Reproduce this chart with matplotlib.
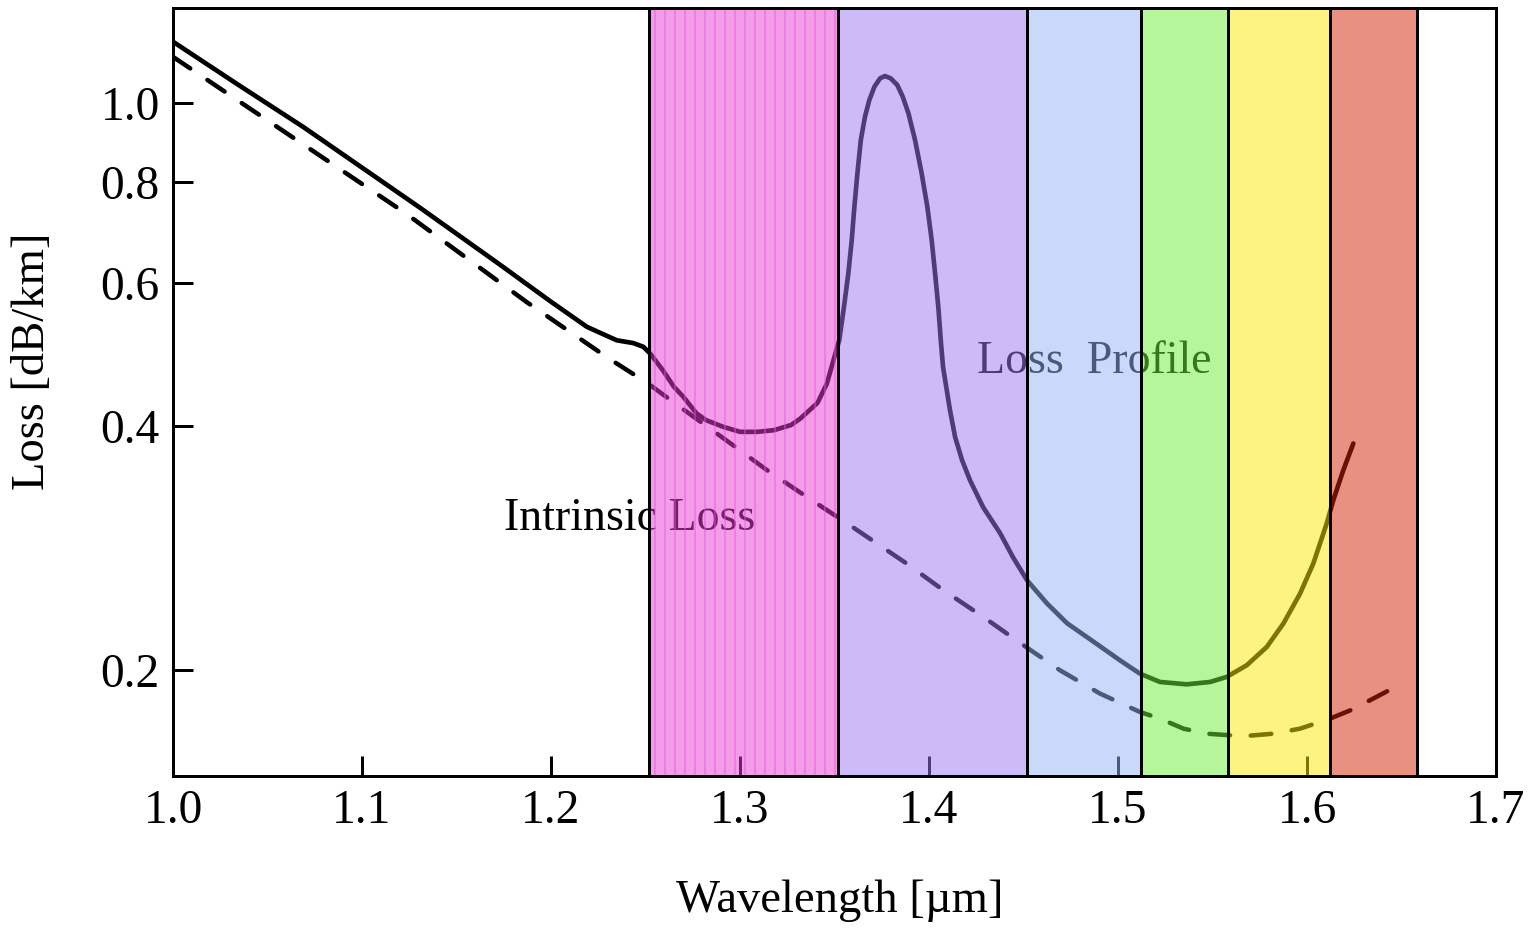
import numpy as np
import matplotlib.pyplot as plt
from matplotlib.ticker import NullLocator

plt.rcParams['font.family'] = ['Liberation Serif', 'DejaVu Serif']
plt.rcParams['hatch.linewidth'] = 0.5

# ── Data ────────────────────────────────────────────────────────────────────
wl_profile = [1.000, 1.034, 1.069, 1.131, 1.173, 1.1995, 1.2189, 1.2259, 1.2348,
              1.2435, 1.2488, 1.2524, 1.259, 1.265, 1.270, 1.277, 1.282, 1.291,
              1.300, 1.309, 1.318, 1.327, 1.332, 1.341, 1.346, 1.349, 1.3525,
              1.355, 1.3573, 1.3591, 1.3605, 1.3621, 1.3639, 1.3661, 1.3684,
              1.3711, 1.3741, 1.3767, 1.3797, 1.3832, 1.3861, 1.3891, 1.3926,
              1.3961, 1.3991, 1.4014, 1.4032, 1.4049, 1.4062, 1.4074, 1.4111,
              1.4138, 1.4175, 1.4217, 1.4286, 1.4376, 1.4444, 1.4519, 1.4624,
              1.4730, 1.4905, 1.5011, 1.5116, 1.5222, 1.5363, 1.5487, 1.5575,
              1.5681, 1.5787, 1.5875, 1.5963, 1.6033, 1.6104, 1.6139, 1.6192,
              1.6245]
loss_profile = [1.19, 1.055, 0.934, 0.742, 0.632, 0.570, 0.530, 0.521, 0.510,
                0.506, 0.5007, 0.4913, 0.469, 0.447, 0.4344, 0.4144, 0.4066, 0.3990,
                0.3933, 0.3933, 0.3952, 0.401, 0.4086, 0.427, 0.4513, 0.478, 0.5103,
                0.5609, 0.6166, 0.6777, 0.7450, 0.8190, 0.9003, 0.9618, 1.0085,
                1.0474, 1.0726, 1.0797, 1.0726, 1.0524, 1.0180, 0.9712, 0.9003,
                0.8190, 0.7450, 0.6777, 0.6166, 0.5609, 0.5103, 0.473, 0.418,
                0.3875, 0.3628, 0.3427, 0.3176, 0.295, 0.2756, 0.258, 0.2417,
                0.2285, 0.214, 0.2056, 0.1980, 0.1934, 0.1921, 0.1934, 0.1962,
                0.2028, 0.2136, 0.2283, 0.2485, 0.2706, 0.3032, 0.3240, 0.3528,
                0.3805]

wl_intrinsic = [1.000, 1.1228, 1.1873, 1.2296, 1.2508, 1.2683, 1.2947, 1.3141,
                1.3353, 1.3565, 1.3882, 1.4076, 1.4287, 1.4499, 1.4693, 1.4905,
                1.5116, 1.5222, 1.5346, 1.5469, 1.5663, 1.5822, 1.5963, 1.6122,
                1.6228, 1.6333, 1.6466]
loss_intrinsic = [1.14, 0.732, 0.568, 0.486, 0.452, 0.422, 0.381, 0.353,
                  0.327, 0.3035, 0.2706, 0.2509, 0.2326, 0.2147, 0.1999, 0.1871,
                  0.1776, 0.1743, 0.1694, 0.1670, 0.1658, 0.1670, 0.1694, 0.1743,
                  0.1784, 0.1836, 0.1906]

band_edges = [1.252, 1.352, 1.452, 1.512, 1.558, 1.612, 1.658]
band_colors = ['#E93BD1', '#9B79F1', '#95B5F5', '#6DEF37', '#FBE903', '#D52503']

x_ticks = [1.0, 1.1, 1.2, 1.3, 1.4, 1.5, 1.6, 1.7]
x_ticklabels = ['1.0', '1.1', '1.2', '1.3', '1.4', '1.5', '1.6', '1.7']
y_ticks = [0.2, 0.4, 0.6, 0.8, 1.0]
y_ticklabels = ['0.2', '0.4', '0.6', '0.8', '1.0']

# ── Figure ──────────────────────────────────────────────────────────────────
fig = plt.figure(figsize=(12.75, 7.75), dpi=120)
ax = fig.add_axes([0.1131, 0.1656, 0.8647, 0.8258])

ax.plot(wl_profile, loss_profile, color='black', lw=2.8,
        solid_capstyle='round', solid_joinstyle='round', zorder=2)
ax.plot(wl_intrinsic, loss_intrinsic, color='black', lw=2.7,
        linestyle=(0, (4.6, 4.6)), dash_capstyle='round', zorder=2)

ax.text(1.2418, 0.2975, 'Intrinsic Loss', fontsize=27.5, ha='center',
        va='baseline', zorder=2)
ax.text(1.4873, 0.4646, 'Loss  Profile', fontsize=27.5, ha='center',
        va='baseline', zorder=2)

# translucent wavelength bands laid over the curves
for i, c in enumerate(band_colors):
    lo, hi = band_edges[i], band_edges[i + 1]
    ax.axvspan(lo, hi, facecolor=c, alpha=0.5, lw=0, zorder=3)
    if i == 0:
        ax.axvspan(lo, hi, facecolor='none', edgecolor='#EA55E2', hatch='||',
                   lw=0, zorder=3.1)
    ax.axvspan(lo, hi, facecolor='none', edgecolor='black', lw=1.8, zorder=4)

ax.set_xlim(1.0, 1.7)
ax.set_yscale('log')
ax.set_ylim(0.1481, 1.3096)

ax.set_xticks(x_ticks, x_ticklabels)
ax.set_yticks(y_ticks, y_ticklabels)
ax.yaxis.set_minor_locator(NullLocator())
ax.tick_params(direction='in', length=12, width=1.8, labelsize=28.5)
ax.tick_params(axis='x', pad=8)
ax.tick_params(axis='y', pad=8)

for s in ax.spines.values():
    s.set_linewidth(1.8)
    s.set_zorder(5)

ax.set_xlabel('Wavelength [µm]', fontsize=28)
ax.set_ylabel('Loss [dB/km]', fontsize=28)
ax.xaxis.set_label_coords(0.504, -0.135)
ax.yaxis.set_label_coords(-0.09, 0.54)

fig.savefig('out.png', dpi=120)
